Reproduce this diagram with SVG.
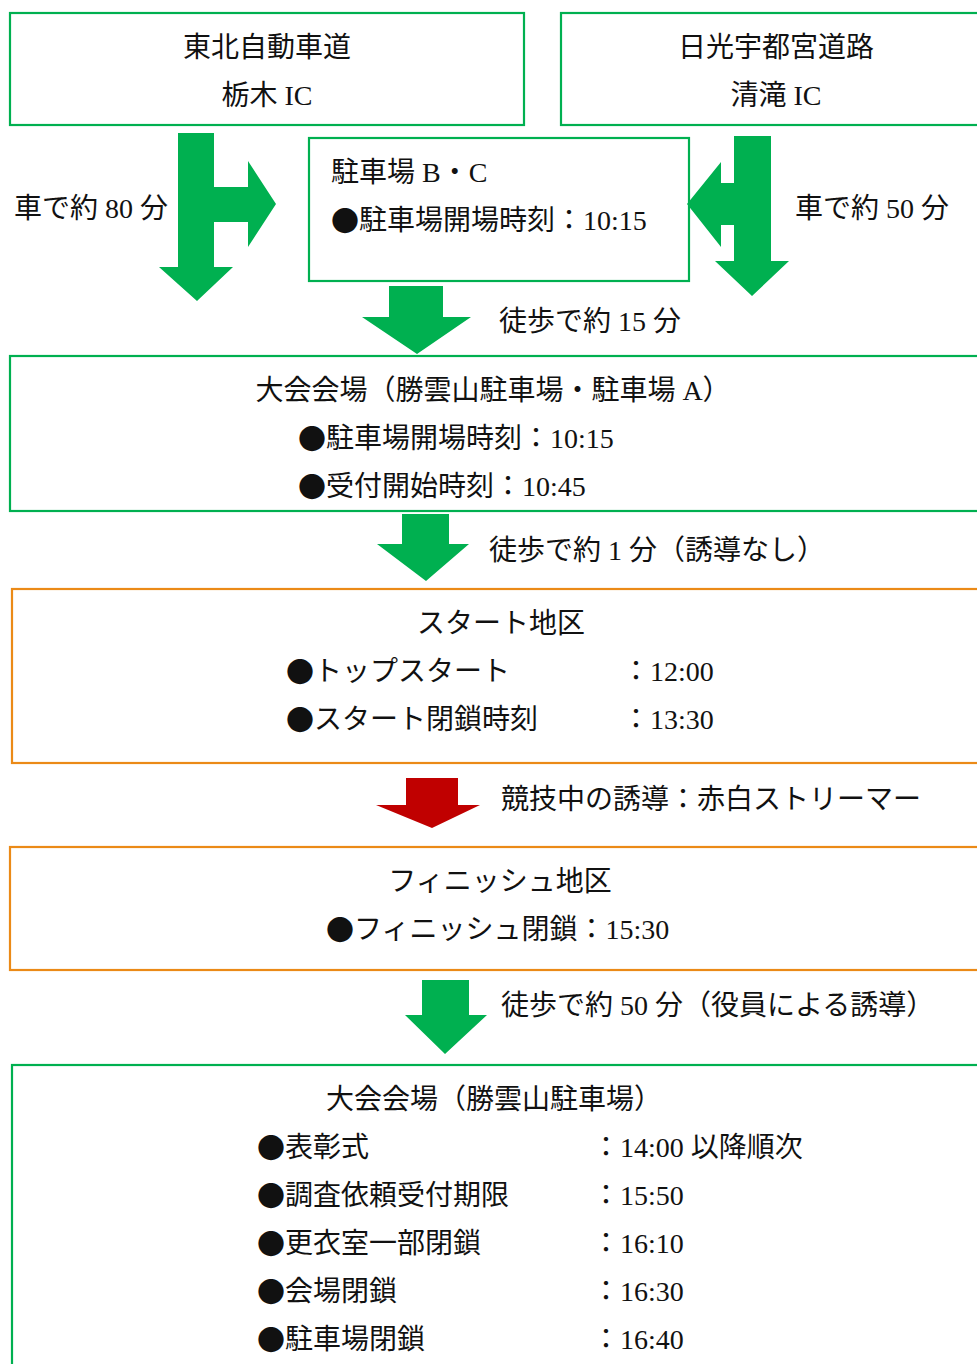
<svg xmlns="http://www.w3.org/2000/svg" width="977" height="1364" viewBox="0 0 977 1364">
<style>
.g{fill:none;stroke:#00B050;stroke-width:2.2}
.o{fill:none;stroke:#EB8A17;stroke-width:2.2}
.ag{fill:#00B050}
.ar{fill:#C00000}
text{font-family:"Liberation Serif","Noto Sans CJK JP",serif;font-size:28px;fill:#111;dominant-baseline:central}
.c{text-anchor:middle}
.b{font-family:"Noto Sans CJK JP",sans-serif}
</style>
<rect width="977" height="1364" fill="#fff"/>
<g id="connectors">
<path class="ag" d="M178,133 L214,133 L214,187 L248,187 L248,161 L276,204 L248,247 L248,222 L214,222 L214,267 L233,267 L197,301 L159,267 L178,267 Z"/>
<path class="ag" d="M734,136 L771,136 L771,261 L789,261 L752,296 L715,261 L734,261 L734,225 L721,225 L721,247 L687,204 L721,162 L721,183 L734,183 Z"/>
<path class="ag" d="M389,286 L443,286 L443,317 L471,317 L417,354 L362,317 L389,317 Z"/>
<path class="ag" d="M402,514 L449,514 L449,544 L469,544 L426,581 L377,544 L402,544 Z"/>
<path class="ar" d="M406,778 L458,778 L458,805 L480,805 L432,828 L376,805 L406,805 Z"/>
<path class="ag" d="M422,980 L469,980 L469,1015 L487,1015 L445,1054 L405,1015 L422,1015 Z"/>
<text x="14" y="208">車で約 80 分</text>
<text x="795" y="208">車で約 50 分</text>
<text x="499" y="321">徒歩で約 15 分</text>
<text x="489" y="550">徒歩で約 1 分（誘導なし）</text>
<text x="501" y="799">競技中の誘導：赤白ストリーマー</text>
<text x="501" y="1005">徒歩で約 50 分（役員による誘導）</text>
</g>
<g id="node-tohoku">
<rect class="g" x="10" y="13" width="514" height="112"/>
<text class="c" x="267" y="47">東北自動車道</text>
<text class="c" x="267" y="95">栃木 IC</text>
</g>
<g id="node-nikko">
<rect class="g" x="561" y="13" width="430" height="112"/>
<text class="c" x="776" y="47">日光宇都宮道路</text>
<text class="c" x="776" y="95">清滝 IC</text>
</g>
<g id="node-parking-bc">
<rect class="g" x="309" y="138" width="380" height="143"/>
<text x="331" y="172">駐車場 B・C</text>
<text x="331" y="220"><tspan class="b">●</tspan>駐車場開場時刻：10:15</text>
</g>
<g id="node-venue-a">
<rect class="g" x="10" y="356" width="980" height="155"/>
<text class="c" x="493" y="390">大会会場（勝雲山駐車場・駐車場 A）</text>
<text x="298" y="438"><tspan class="b">●</tspan>駐車場開場時刻：10:15</text>
<text x="298" y="486"><tspan class="b">●</tspan>受付開始時刻：10:45</text>
</g>
<g id="node-start">
<rect class="o" x="12" y="589" width="980" height="174"/>
<text class="c" x="501" y="623">スタート地区</text>
<text x="286" y="671"><tspan class="b">●</tspan>トップスタート</text>
<text x="622" y="671">：12:00</text>
<text x="286" y="719"><tspan class="b">●</tspan>スタート閉鎖時刻</text>
<text x="622" y="719">：13:30</text>
</g>
<g id="node-finish">
<rect class="o" x="10" y="847" width="980" height="123"/>
<text class="c" x="500" y="881">フィニッシュ地区</text>
<text x="326" y="929"><tspan class="b">●</tspan>フィニッシュ閉鎖：15:30</text>
</g>
<g id="node-venue">
<rect class="g" x="12" y="1065" width="980" height="310"/>
<text class="c" x="494" y="1099">大会会場（勝雲山駐車場）</text>
<text x="257" y="1147"><tspan class="b">●</tspan>表彰式</text>
<text x="592" y="1147">：14:00 以降順次</text>
<text x="257" y="1195"><tspan class="b">●</tspan>調査依頼受付期限</text>
<text x="592" y="1195">：15:50</text>
<text x="257" y="1243"><tspan class="b">●</tspan>更衣室一部閉鎖</text>
<text x="592" y="1243">：16:10</text>
<text x="257" y="1291"><tspan class="b">●</tspan>会場閉鎖</text>
<text x="592" y="1291">：16:30</text>
<text x="257" y="1339"><tspan class="b">●</tspan>駐車場閉鎖</text>
<text x="592" y="1339">：16:40</text>
</g>
</svg>
